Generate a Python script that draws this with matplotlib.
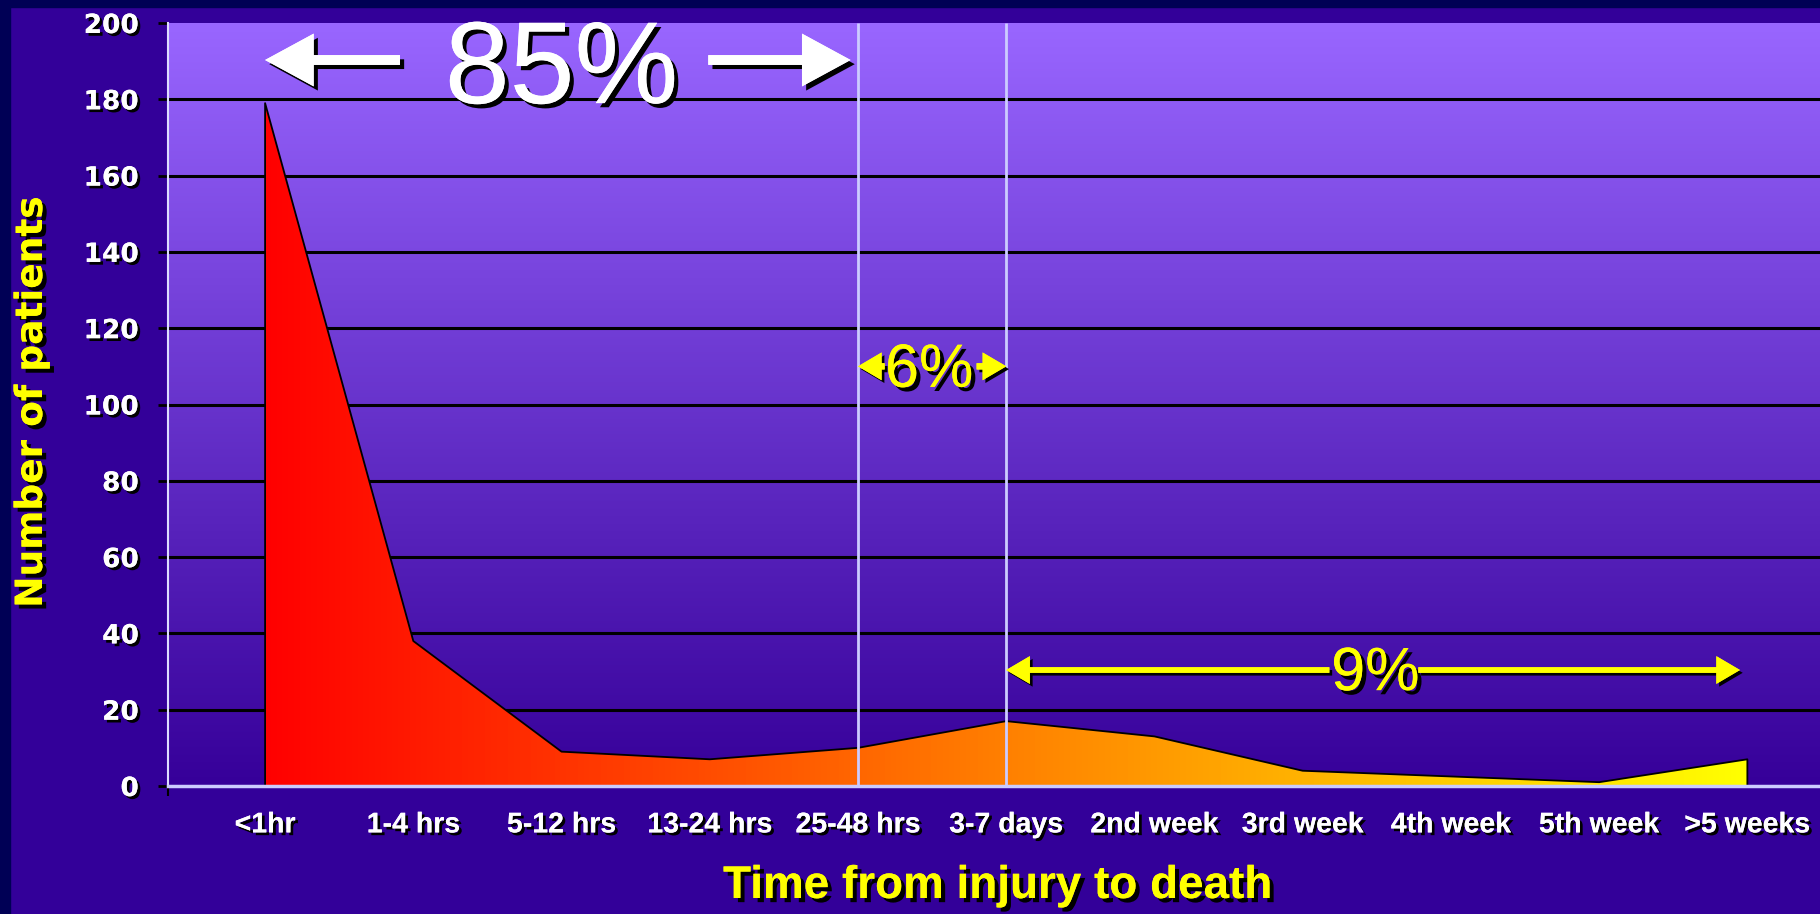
import numpy as np
import matplotlib
matplotlib.use("Agg")
import matplotlib.pyplot as plt
import matplotlib.patheffects as pe
from matplotlib.colors import LinearSegmentedColormap
from matplotlib.patches import Polygon, Rectangle

categories = ["<1hr", "1-4 hrs", "5-12 hrs", "13-24 hrs", "25-48 hrs", "3-7 days",
              "2nd week", "3rd week", "4th week", "5th week", ">5 weeks"]
patients = [179, 38, 9, 7, 10, 17, 13, 4, 2.5, 1, 7]
yticks = [0, 20, 40, 60, 80, 100, 120, 140, 160, 180, 200]

x = np.arange(len(categories))
xlim = (-0.655, 10.49)

fig = plt.figure(figsize=(18.2, 9.14), dpi=100)
fig.patch.set_facecolor("#330099")
# dark slide border (top and left)
fig.patches.append(Rectangle((0, 1 - 7 / 914), 1, 7 / 914, transform=fig.transFigure,
                             color="#000055", zorder=0))
fig.patches.append(Rectangle((0, 0), 10 / 1820, 1, transform=fig.transFigure,
                             color="#000055", zorder=0))

ax = fig.add_axes([168 / 1820, 128 / 914, (1820 - 168) / 1820, 763 / 914])
ax.set_facecolor("none")

# vertical gradient plot background
bg = LinearSegmentedColormap.from_list("bg", ["#360099", "#9966FF"])
ax.imshow(np.linspace(0, 1, 256).reshape(-1, 1), extent=(0, 1, 0, 1), origin="lower",
          transform=ax.transAxes, aspect="auto", cmap=bg, zorder=0)

# gridlines
ax.hlines(yticks[1:-1], xlim[0], xlim[1], colors="black", linewidth=2.2, zorder=1)

# area with horizontal red->yellow gradient
verts = [(x[0], 0)] + list(zip(x, patients)) + [(x[-1], 0)]
poly = Polygon(verts, closed=True, facecolor="none", edgecolor="none")
ax.add_patch(poly)
ry = LinearSegmentedColormap.from_list("ry", ["#FF0000", "#FFFF00"])
im = ax.imshow(np.linspace(0, 1, 256).reshape(1, -1), extent=(x[0], x[-1], 0, max(patients)),
               aspect="auto", cmap=ry, zorder=2)
im.set_clip_path(poly)
ax.plot([x[0]] + list(x) + [x[-1]], [0] + patients + [0], color="black", lw=1.3, zorder=3)

# white separators
for xv in (4, 5):
    ax.vlines(xv, 0, 200, colors="#CCCCFF", linewidth=2, zorder=4)

ax.set_xlim(*xlim)
ax.set_ylim(0, 200)

for s in ("top", "right"):
    ax.spines[s].set_visible(False)
ax.spines["left"].set_color("#DDDDFF")
ax.spines["left"].set_linewidth(1.5)
ax.spines["bottom"].set_color("#CCCCFF")
ax.spines["bottom"].set_linewidth(2.5)
ax.spines["left"].set_zorder(5)
ax.spines["bottom"].set_zorder(5)

shadow = [pe.withSimplePatchShadow(offset=(2, -2), shadow_rgbFace="black", alpha=1), pe.Normal()]

ax.set_yticks(yticks)
ax.set_yticklabels([str(v) for v in yticks], fontsize=19, fontweight="bold",
                   color="white", family="DejaVu Sans")
ax.tick_params(axis="y", length=7, width=2, color="black", pad=14)

ax.set_xticks(x)
ax.set_xticklabels(categories, fontsize=20.5, fontweight="bold", color="white",
                   family=["Liberation Sans Narrow", "Liberation Sans"])
ax.tick_params(axis="x", which="major", length=0, pad=19)
ax.set_xticks([xlim[0]] + list(x[1:]), minor=True)
ax.tick_params(axis="x", which="minor", length=7, width=1.5, color="black")

for lab in ax.get_xticklabels() + ax.get_yticklabels():
    lab.set_path_effects(shadow)

big_shadow = [pe.withSimplePatchShadow(offset=(3, -3), shadow_rgbFace="black", alpha=1), pe.Normal()]

fig.text(32 / 1820, 1 - 402 / 914, "Number of patients", fontsize=27, fontweight="bold",
         color="#FFFF00", rotation=90, ha="center", va="center", family="DejaVu Sans",
         path_effects=big_shadow)
fig.text(998 / 1820, 1 - 886 / 914, "Time from injury to death", fontsize=33,
         fontweight="bold", color="#FFFF00", ha="center", va="center",
         family=["Liberation Sans Narrow", "Liberation Sans"], path_effects=big_shadow)


def arrow(x0, x1, y, color, hl, hw, tw, off):
    sh = [pe.withSimplePatchShadow(offset=(off, -off), shadow_rgbFace="black", alpha=1), pe.Normal()]
    ax.annotate("", xy=(x1, y), xytext=(x0, y),
                arrowprops=dict(arrowstyle=f"simple,head_length={hl},head_width={hw},tail_width={tw}",
                                mutation_scale=1, fc=color, ec="none", shrinkA=0, shrinkB=0,
                                path_effects=sh), zorder=6)


# 85%
ax.text(2.0, 187, "85%", fontsize=84, color="white", ha="center", va="center",
        family="Liberation Sans", path_effects=big_shadow, zorder=6)
arrow(0.91, 0.0, 190.3, "white", 35, 38, 7, 3)
arrow(2.99, 3.95, 190.3, "white", 35, 38, 7, 3)

# 6%
ax.text(4.48, 108.7, "6%", fontsize=44, color="#FFFF00", ha="center", va="center",
        family="Liberation Sans", path_effects=big_shadow, zorder=6)
arrow(4.18, 4.0, 110, "#FFFF00", 17, 20, 4.5, 2)
arrow(4.8, 5.0, 110, "#FFFF00", 17, 20, 4.5, 2)

# 9%
ax.text(7.49, 29.2, "9%", fontsize=44, color="#FFFF00", ha="center", va="center",
        family="Liberation Sans", path_effects=big_shadow, zorder=6)
arrow(7.18, 5.0, 30.4, "#FFFF00", 17, 20, 4, 2)
arrow(7.78, 9.95, 30.4, "#FFFF00", 17, 20, 4, 2)

fig.savefig("out.png", dpi=100, facecolor=fig.get_facecolor())
